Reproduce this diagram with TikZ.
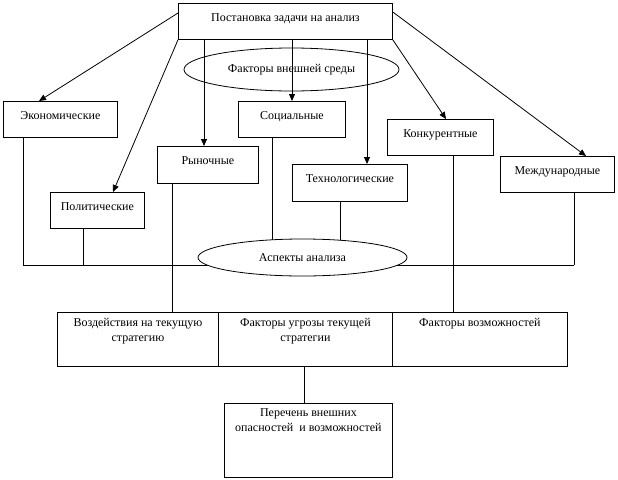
\documentclass[tikz,border=0pt]{standalone}
\usepackage{fontspec}
\setmainfont{Liberation Serif}
\usetikzlibrary{arrows.meta,calc,shapes.geometric}
\begin{document}
\begin{tikzpicture}[x=1pt,y=-1pt,
  line width=0.8pt,
  every node/.style={font=\fontsize{12}{15}\selectfont},
  box/.style={draw,rectangle,anchor=north west,inner sep=0pt,text height=8pt,text depth=8pt},
  tbox/.style={draw,rectangle,anchor=north west,inner sep=0pt},
  oval/.style={draw,ellipse,inner sep=0pt},
  arr/.style={-{Triangle[length=7pt,width=6pt]}},
  conn/.style={-}]
\useasboundingbox (0,0) rectangle (618,479);
% boxes
\node[box,minimum width=214,minimum height=36] (top) at (178,3) {Постановка задачи на анализ};
\node[box,minimum width=114,minimum height=36] (eco) at (3,101) {Экономические};
\node[box,minimum width=94,minimum height=36] (pol) at (50,192) {Политические};
\node[box,minimum width=101,minimum height=37] (market) at (157,146) {Рыночные};
\node[box,minimum width=107,minimum height=36] (soc) at (238,101) {Социальные};
\node[box,minimum width=115,minimum height=37] (tech) at (292,164) {Технологические};
\node[box,minimum width=106,minimum height=36] (comp) at (387,119) {Конкурентные};
\node[box,minimum width=114,minimum height=36] (intl) at (500,156) {Международные};
\node[oval,minimum width=215,minimum height=43] (ext) at (291.5,69.5) {Факторы внешней среды};
% bottom boxes
\node[tbox,minimum width=161,minimum height=54] (imp) at (57,312) {};
\node[tbox,minimum width=174,minimum height=54] (thr) at (218,312) {};
\node[tbox,minimum width=175,minimum height=54] (pos) at (392,312) {};
\node[tbox,minimum width=168,minimum height=74] (lst) at (224,403) {};
\node[align=center,anchor=north,inner sep=0pt] (impt) at ($(imp.north)+(0,6)$) {Воздействия на текущую\\стратегию};
\node[align=center,anchor=north,inner sep=0pt] (thrt) at ($(thr.north)+(0,6)$) {Факторы угрозы текущей\\стратегии};
\node[align=center,anchor=north,inner sep=0pt] (post) at ($(pos.north)+(0,6)$) {Факторы возможностей};
\node[align=center,anchor=north,inner sep=0pt] (lstt) at ($(lst.north)+(0,5)$) {Перечень внешних\\опасностей\ \ и возможностей};
% arrows from top
\draw[arr] ($(top.north west)+(0,10)$) -- ($(eco.north west)+(36,0)$);
\draw[arr] (top.south west) -- ($(pol.north west)+(63,0)$);
\draw[arr] ($(top.south west)+(26,0)$) -- ($(market.north west)+(47,0)$);
\draw[arr] ($(top.south west)+(114,0)$) -- ($(soc.north west)+(54,0)$);
\draw[arr] ($(top.south west)+(189,0)$) -- ($(tech.north west)+(75,0)$);
\draw[arr] (top.south east) -- ($(comp.north west)+(59,0)$);
\draw[arr] ($(top.north east)+(0,9)$) -- ($(intl.north west)+(86,0)$);
% bus
\coordinate (bL) at (23,265);
\coordinate (bP) at (83,265);
\coordinate (bS) at (272,265);
\coordinate (bT) at (340,265);
\coordinate (bR) at (574,265);
\coordinate (xm) at (172,0);
\coordinate (xc) at (453,0);
\draw[conn] (bL |- eco.south) -- (bL);
\draw[conn] (bP |- pol.south) -- (bP);
\draw[conn] (bS |- soc.south) -- (bS);
\draw[conn] (bT |- tech.south) -- (bT);
\draw[conn] (bR |- intl.south) -- (bR);
\draw[conn] (bL) -- (bR);
\draw[conn] (xm |- market.south) -- (xm |- imp.north);
\draw[conn] (xc |- comp.south) -- (xc |- pos.north);
\draw[conn] ([xshift=-1pt]thr.south) -- ([xshift=-1pt]thr.south |- lst.north);
% lower ellipse over the lines
\node[oval,fill=white,minimum width=209,minimum height=37] (asp) at (302.5,257.5) {Аспекты анализа};
\end{tikzpicture}
\end{document}
